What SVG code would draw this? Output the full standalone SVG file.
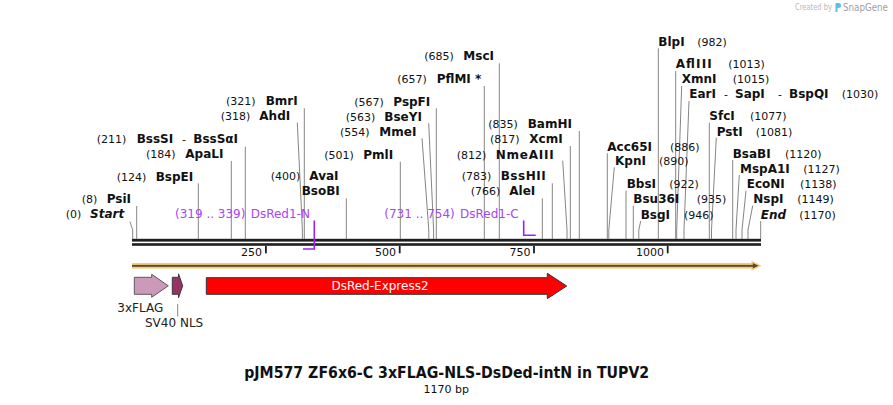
<svg xmlns="http://www.w3.org/2000/svg" width="893" height="405" viewBox="0 0 893 405">
<style>
text{font-family:"DejaVu Sans",Verdana,"Liberation Sans",sans-serif}
.n{font-size:11px;fill:#111}
.e{font-size:12px;font-weight:bold;fill:#111}
.ei{font-size:12px;font-weight:bold;font-style:italic;fill:#111}
.pt{font-size:12px;fill:#a845f5}
.pl{stroke:#9b20f2;stroke-width:1.6;fill:none}
.cut{stroke:#858585;stroke-width:1;fill:none}
.tick{font-size:11px;fill:#111;text-anchor:end}
.ft{font-size:12px;fill:#222}
</style>
<rect width="893" height="405" fill="#fff"/>

<!-- watermark -->
<g id="watermark">
<text x="795" y="10" textLength="37" lengthAdjust="spacingAndGlyphs" style="font-size:8px;fill:#b8b8b8">Created by</text>
<path d="M835.5,3 h3 a2.5,2.5 0 0 1 0,5 h-1 v4 h-2 z" fill="#5bc0eb"/>
<text x="843" y="11" textLength="45" lengthAdjust="spacingAndGlyphs" style="font-size:10px;fill:#a0a0a0">SnapGene</text>
</g>

<!-- backbone -->
<g id="backbone">
<rect x="132" y="238.8" width="629" height="2.8" fill="#1e1e1e"/>
<rect x="132" y="243.2" width="629" height="2.6" fill="#1e1e1e"/>
<rect x="265" y="246" width="1.8" height="7.3" fill="#1e1e1e"/>
<rect x="398.8" y="246" width="1.8" height="7.3" fill="#1e1e1e"/>
<rect x="533.1" y="246" width="1.8" height="7.3" fill="#1e1e1e"/>
<rect x="666.8" y="246" width="1.8" height="7.3" fill="#1e1e1e"/>
<text class="tick" x="262" y="255.5">250</text>
<text class="tick" x="396" y="255.5">500</text>
<text class="tick" x="530.5" y="255.5">750</text>
<text class="tick" x="664" y="255.5">1000</text>
</g>

<!-- connectors -->
<g id="connectors">
<polyline class="cut" points="130,221.7 132.7,230 132.7,239"/>
<polyline class="cut" points="136.7,206 136.7,239"/>
<polyline class="cut" points="198.3,183.3 198.3,239"/>
<polyline class="cut" points="231.3,161 231.3,239"/>
<polyline class="cut" points="245.3,146.7 245.3,239"/>
<polyline class="cut" points="297.3,122.7 302.4,230 302.4,239"/>
<polyline class="cut" points="304.3,108.3 304.3,239"/>
<polyline class="cut" points="346.3,198.3 346.3,239"/>
<polyline class="cut" points="400.3,161.7 400.3,239"/>
<polyline class="cut" points="422,138.3 428.8,230 428.8,239"/>
<polyline class="cut" points="428.7,123.3 433.6,230 433.6,239"/>
<polyline class="cut" points="436.3,108.3 436.3,239"/>
<polyline class="cut" points="484.3,86 484.3,239"/>
<polyline class="cut" points="499.3,63.3 499.3,239"/>
<polyline class="cut" points="542.3,198.3 542.3,239"/>
<polyline class="cut" points="552.3,183.3 552.3,239"/>
<polyline class="cut" points="562.7,160.7 567,230 567,239"/>
<polyline class="cut" points="570.3,146 570.3,239"/>
<polyline class="cut" points="579.3,131 579.3,239"/>
<polyline class="cut" points="607.3,153.3 607.3,239"/>
<polyline class="cut" points="614.3,167.3 608.8,230 608.8,239"/>
<polyline class="cut" points="626,190.7 626,239"/>
<polyline class="cut" points="633.3,205.7 633.3,239"/>
<polyline class="cut" points="640.7,221 638.8,230 638.8,239"/>
<polyline class="cut" points="658.3,48.3 658.3,239"/>
<polyline class="cut" points="675.7,71 675.7,239"/>
<polyline class="cut" points="681.7,86 676.7,230 676.7,239"/>
<polyline class="cut" points="689,101 684,230 684,239"/>
<polyline class="cut" points="709.3,122.7 709.3,239"/>
<polyline class="cut" points="716.3,137.7 711.5,230 711.5,239"/>
<polyline class="cut" points="732.7,160 732.7,239"/>
<polyline class="cut" points="739.3,175 736,230 736,239"/>
<polyline class="cut" points="746,190.7 742,230 742,239"/>
<polyline class="cut" points="752.7,205.7 748,230 748,239"/>
<polyline class="cut" points="760.7,221 760.7,239"/>
<polyline class="pl" points="303,249 314.3,249 314.3,220.5"/>
<polyline class="pl" points="523.7,220.5 523.7,235.3 535.7,235.3"/>
<line x1="177.7" y1="304" x2="177.7" y2="316.5" stroke="#858585" stroke-width="1"/>
</g>

<!-- enzyme labels, left side -->
<g id="enz-Start"><text class="n" x="65.7" y="218.3">(0)</text><text class="ei" x="90" y="218.3">Start</text></g>
<g id="enz-PsiI"><text class="n" x="81.7" y="203.3">(8)</text><text class="e" x="106.7" y="203.3">PsiI</text></g>
<g id="enz-BspEI"><text class="n" x="116.7" y="180.7">(124)</text><text class="e" x="155.7" y="180.7">BspEI</text></g>
<g id="enz-ApaLI"><text class="n" x="146" y="158.3">(184)</text><text class="e" x="185.3" y="158.3">ApaLI</text></g>
<g id="enz-BssSI"><text class="n" x="96.7" y="143.3">(211)</text><text class="e" x="136.7" y="143.3">BssSI</text><text class="n" x="182" y="143.3">-</text><text class="e" x="193.3" y="143.3">BssSαI</text></g>
<g id="enz-AhdI"><text class="n" x="220.7" y="120">(318)</text><text class="e" x="259.3" y="120">AhdI</text></g>
<g id="enz-BmrI"><text class="n" x="226" y="105.3">(321)</text><text class="e" x="265.7" y="105.3">BmrI</text></g>
<g id="enz-AvaI"><text class="n" x="270.7" y="180">(400)</text><text class="e" x="309.3" y="180">AvaI</text><text class="e" x="301.7" y="195.3">BsoBI</text></g>
<g id="enz-PmlI"><text class="n" x="324.3" y="159">(501)</text><text class="e" x="363.3" y="159">PmlI</text></g>
<g id="enz-MmeI"><text class="n" x="340" y="135.7">(554)</text><text class="e" x="379.3" y="135.7">MmeI</text></g>
<g id="enz-BseYI"><text class="n" x="345.7" y="120.7">(563)</text><text class="e" x="384.3" y="120.7">BseYI</text></g>
<g id="enz-PspFI"><text class="n" x="354.3" y="105.7">(567)</text><text class="e" x="393.3" y="105.7">PspFI</text></g>
<g id="enz-PflMI"><text class="n" x="397.3" y="83.3">(657)</text><text class="e" x="436.7" y="83.3">PflMI *</text></g>
<g id="enz-MscI"><text class="n" x="424.3" y="60">(685)</text><text class="e" x="463.3" y="60">MscI</text></g>
<g id="enz-AleI"><text class="n" x="470.7" y="195.3">(766)</text><text class="e" x="509.3" y="195.3">AleI</text></g>
<g id="enz-BssHII"><text class="n" x="461.7" y="180">(783)</text><text class="e" x="500.7" y="180" textLength="45" lengthAdjust="spacing">BssHII</text></g>
<g id="enz-NmeAIII"><text class="n" x="456.7" y="159">(812)</text><text class="e" x="495.7" y="159" textLength="58" lengthAdjust="spacing">NmeAIII</text></g>
<g id="enz-XcmI"><text class="n" x="490" y="143.3">(817)</text><text class="e" x="529.3" y="143.3">XcmI</text></g>
<g id="enz-BamHI"><text class="n" x="488.3" y="128.3">(835)</text><text class="e" x="527.7" y="128.3">BamHI</text></g>

<!-- enzyme labels, right side -->
<g id="enz-Acc65I"><text class="e" x="607.3" y="150.7">Acc65I</text><text class="n" x="670" y="150.7">(886)</text></g>
<g id="enz-KpnI"><text class="e" x="615" y="165">KpnI</text><text class="n" x="659" y="165">(890)</text></g>
<g id="enz-BbsI"><text class="e" x="626.7" y="188.3">BbsI</text><text class="n" x="669.3" y="188.3">(922)</text></g>
<g id="enz-Bsu36I"><text class="e" x="633.3" y="203.3">Bsu36I</text><text class="n" x="696.7" y="203.3">(935)</text></g>
<g id="enz-BsgI"><text class="e" x="640.7" y="219">BsgI</text><text class="n" x="684" y="219">(946)</text></g>
<g id="enz-BlpI"><text class="e" x="658.3" y="45.7">BlpI</text><text class="n" x="697.3" y="45.7">(982)</text></g>
<g id="enz-AflIII"><text class="e" x="675.7" y="68.3" textLength="36" lengthAdjust="spacing">AflIII</text><text class="n" x="728.3" y="68.3">(1013)</text></g>
<g id="enz-XmnI"><text class="e" x="681.7" y="83.3">XmnI</text><text class="n" x="732.7" y="83.3">(1015)</text></g>
<g id="enz-EarI"><text class="e" x="689.3" y="98.3">EarI</text><text class="n" x="724" y="98.3">-</text><text class="e" x="735" y="98.3">SapI</text><text class="n" x="778" y="98.3">-</text><text class="e" x="789" y="98.3">BspQI</text><text class="n" x="841.7" y="98.3">(1030)</text></g>
<g id="enz-SfcI"><text class="e" x="709.3" y="120">SfcI</text><text class="n" x="750" y="120">(1077)</text></g>
<g id="enz-PstI"><text class="e" x="716.7" y="135.7">PstI</text><text class="n" x="755.7" y="135.7">(1081)</text></g>
<g id="enz-BsaBI"><text class="e" x="732.7" y="157.7">BsaBI</text><text class="n" x="785" y="157.7">(1120)</text></g>
<g id="enz-MspA1I"><text class="e" x="740" y="172.7">MspA1I</text><text class="n" x="803.3" y="172.7">(1127)</text></g>
<g id="enz-EcoNI"><text class="e" x="746.7" y="188.3">EcoNI</text><text class="n" x="800" y="188.3">(1138)</text></g>
<g id="enz-NspI"><text class="e" x="753.3" y="203.3">NspI</text><text class="n" x="797.3" y="203.3">(1149)</text></g>
<g id="enz-End"><text class="ei" x="760.7" y="219">End</text><text class="n" x="799.3" y="219">(1170)</text></g>

<!-- primer-like sites -->
<g id="site-DsRed1-N"><text class="pt" x="175" y="218.3">(319 .. 339)</text><text class="pt" x="250.7" y="218.3">DsRed1-N</text></g>
<g id="site-DsRed1-C"><text class="pt" x="384.3" y="218.3">(731 .. 754)</text><text class="pt" x="460" y="218.3">DsRed1-C</text></g>

<!-- features -->
<g id="feat-orf">
<rect x="132" y="263" width="622" height="5.6" fill="#f7c97c"/>
<polygon points="751.5,260.8 761.5,265.8 751.5,270.8" fill="#f7c97c"/>
<rect x="132" y="264.9" width="622" height="1.9" fill="#5b4a32"/>
<polygon points="752.8,263 758.6,265.8 752.8,268.6" fill="#5b4a32"/>
</g>
<g id="feat-3xFLAG">
<polygon points="134.3,277.3 151.7,277.3 151.7,274.3 168.3,285.8 151.7,297.3 151.7,294.3 134.3,294.3" fill="#cc9ab8" stroke="#5a5a5a" stroke-width="1"/>
<text class="ft" x="117.3" y="311.7">3xFLAG</text>
</g>
<g id="feat-SV40NLS">
<polygon points="172.3,277.3 178.5,277.3 178.5,273.8 182.7,285.8 178.5,297.8 178.5,294.3 172.3,294.3" fill="#993366" stroke="#3a3a3a" stroke-width="1"/>
<text class="ft" x="145" y="327.3">SV40 NLS</text>
</g>
<g id="feat-DsRed">
<polygon points="206.3,277.7 547.3,277.7 547.3,273.3 566.7,286 547.3,298.7 547.3,294.3 206.3,294.3" fill="#ff0000" stroke="#333" stroke-width="1"/>
<text x="380" y="290.3" text-anchor="middle" style="font-size:12px;fill:#fff">DsRed-Express2</text>
</g>

<g id="title">
<text x="446.7" y="378.3" text-anchor="middle" textLength="405" lengthAdjust="spacingAndGlyphs" style="font-size:15px;font-weight:bold;fill:#111">pJM577 ZF6x6-C 3xFLAG-NLS-DsDed-intN in TUPV2</text>
<text x="446.3" y="392.5" text-anchor="middle" style="font-size:11px;fill:#111">1170 bp</text>
</g>
</svg>
